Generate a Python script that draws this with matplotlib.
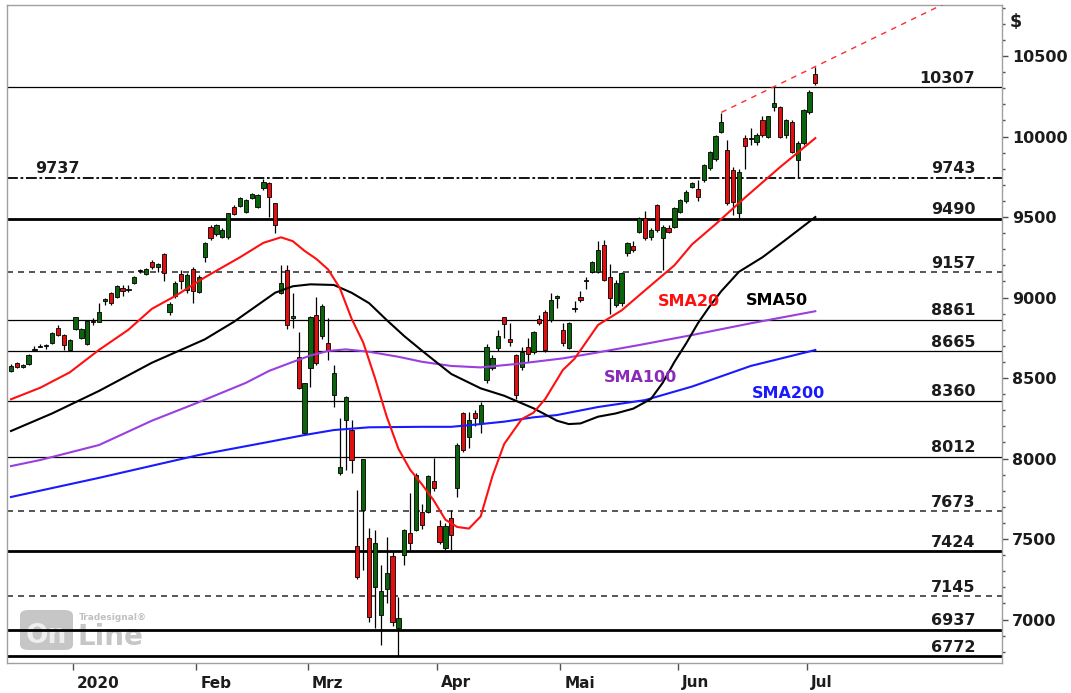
import numpy as np
import matplotlib
matplotlib.use("Agg")
from matplotlib import pyplot as plt
from matplotlib.patches import FancyBboxPatch
from matplotlib.ticker import MultipleLocator, NullFormatter
from matplotlib.transforms import ScaledTranslation

####################### Data ########################

# daily candles, one entry per trading day (16.12.2019 - 02.07.2020)
opens = [8545, 8591, 8570, 8587, 8672, 8695, 8698, 8716, 8809, 8767, 8674,
         8802, 8747, 8711, 8854, 8850, 8980, 9028, 9005, 9060, 9048, 9090, 9165, 9146, 9222, 9188, 9270, 8912, 9009, 9146, 9047, 9175,
         9036, 9253, 9440, 9394, 9378, 9374, 9564, 9568, 9533, 9620, 9564, 9678, 9709, 9585, 9030, 9171, 8875, 8632, 8157,
         8560, 8891, 8761, 8716, 8394, 7912, 8239, 8177, 7457, 7680, 7504, 7204, 7028, 7188, 7394, 6945, 7400, 7535, 7556, 7665, 7665, 7860,
         7580, 7442, 7630, 7815, 8281, 8135, 8281, 8219, 8488, 8560, 8684, 8877, 8741, 8643, 8571, 8694, 8664, 8864, 8912, 8860, 9000,
         8798, 8684, 8930, 9005, 9105, 9160, 9160, 9326, 9130, 8953, 8964, 9278, 9320, 9409, 9492, 9378, 9575, 9368, 9430, 9440,
         9533, 9601, 9688, 9672, 9730, 9802, 9858, 10030, 9916, 9792, 9523, 9989, 9985, 9968, 10102, 9999, 10185, 10181, 10009, 10092, 9854, 9961,
         10154, 10388]
highs = [8590, 8600, 8590, 8650, 8700, 8712, 8710, 8785, 8830, 8775, 8740,
         8880, 8810, 8860, 8875, 8966, 9000, 9035, 9075, 9075, 9075, 9135, 9180, 9185, 9235, 9215, 9275, 8970, 9100, 9170, 9150, 9190,
         9140, 9345, 9450, 9455, 9430, 9528, 9575, 9625, 9615, 9650, 9645, 9737, 9720, 9590, 9202, 9202, 9026, 8788, 8470,
         8885, 9005, 8960, 8871, 8581, 8252, 8390, 8240, 7804, 8000, 7567, 7556, 7339, 7515, 7420, 7141, 7560, 7784, 7910, 7720, 7895, 8005,
         7620, 7600, 7680, 8094, 8290, 8290, 8300, 8350, 8710, 8640, 8800, 8880, 8842, 8650, 8690, 8750, 8795, 8890, 8920, 9030, 9015,
         8840, 8845, 8980, 9040, 9130, 9230, 9350, 9355, 9210, 9110, 9160, 9345, 9350, 9500, 9540, 9430, 9580, 9450, 9450, 9560,
         9610, 9665, 9720, 9728, 9830, 9910, 10010, 10144, 9980, 9810, 9800, 10010, 10050, 10020, 10130, 10130, 10307, 10190, 10110, 10100, 9970, 10170,
         10290, 10434]
lows = [8535, 8560, 8560, 8580, 8665, 8690, 8680, 8710, 8760, 8674, 8670,
        8800, 8740, 8705, 8830, 8845, 8955, 8955, 9000, 9010, 9035, 9085, 9150, 9140, 9180, 9160, 9104, 8890, 9000, 9053, 9030, 8964,
        9030, 9220, 9360, 9380, 9370, 9365, 9510, 9560, 9525, 9610, 9555, 9670, 9502, 9402, 9020, 8804, 8809, 8430, 8150,
        8446, 8580, 8740, 8612, 8322, 7900, 7930, 7910, 7250, 7307, 6986, 6945, 6842, 7100, 6960, 6772, 7340, 7432, 7550, 7560, 7660, 7800,
        7470, 7430, 7432, 7763, 8040, 8064, 8200, 8160, 8470, 8550, 8670, 8750, 8700, 8370, 8550, 8600, 8650, 8830, 8660, 8845, 8933,
        8700, 8680, 8910, 8970, 9050, 9150, 9150, 9100, 8900, 8940, 8950, 9260, 9280, 9400, 9360, 9360, 9410, 9171, 9400, 9430,
        9525, 9590, 9680, 9600, 9720, 9795, 9850, 10020, 9575, 9510, 9490, 9800, 9950, 9950, 10000, 9990, 10160, 9990, 9990, 9900, 9743, 9950,
        10140, 10320]
closes = [8575, 8566, 8578, 8643, 8682, 8702, 8704, 8777, 8767, 8705, 8736,
          8877, 8802, 8854, 8848, 8912, 8990, 8966, 9071, 9040, 9053, 9127, 9172, 9175, 9188, 9210, 9150, 8960, 9092, 9104, 9140, 9042,
          9129, 9337, 9368, 9450, 9419, 9523, 9519, 9616, 9606, 9640, 9637, 9719, 9626, 9450, 9088, 8829, 8885, 8436, 8467,
          8881, 8591, 8947, 8674, 8533, 7949, 8384, 7991, 7262, 7995, 7017, 7473, 7179, 7287, 6986, 7007, 7556, 7473, 7900, 7590, 7890, 7815,
          7480, 7579, 7525, 8084, 8053, 8239, 8250, 8332, 8694, 8622, 8761, 8835, 8726, 8394, 8664, 8649, 8788, 8843, 8674, 8985, 9008,
          8716, 8840, 8936, 8985, 9112, 9222, 9295, 9109, 8995, 9088, 9150, 9337, 9295, 9492, 9368, 9419, 9419, 9440, 9409, 9554,
          9606, 9657, 9709, 9622, 9823, 9906, 10003, 10092, 9585, 9595, 9781, 9941, 9992, 10009, 10009, 10127, 10210, 9999, 10102, 9906, 9958, 10165,
          10278, 10334]

# first trading day of each month (index into the candle lists)
month_labels = ["2020", "Feb", "Mrz", "Apr", "Mai", "Jun", "Jul"]
month_start = [11, 32, 51, 73, 94, 114, 136]

# horizontal support / resistance levels
levels = [10307, 9743, 9490, 9157, 8861, 8665, 8360, 8012, 7673, 7424, 7145, 6937, 6772]
level_kind = ["thin", "dashdot", "thick", "dashed", "thin", "thin", "thin", "thin",
              "dashed", "thick", "dashed", "thick", "thick"]
left_level = 9737

# trend line through the highs of 10.06. and 23.06.
trend_idx = [121, 130]
trend_val = [10150, 10310]

sma20_idx = [0, 5, 10, 15, 20, 24, 28, 33, 39, 43, 46, 48, 50, 52, 54, 56, 58, 60, 62, 64, 66, 68,
             70, 72, 74, 76, 78, 80, 82, 84, 87, 89, 91, 94, 96, 100, 104, 108, 113, 116, 120, 125, 131, 137]
sma20_val = [8368, 8440, 8535, 8675, 8800, 8930, 9010, 9125, 9250, 9340, 9374, 9350, 9290, 9240, 9175, 9060,
             8870, 8720, 8500, 8260, 8060, 7930, 7840, 7740, 7620, 7575, 7565, 7640, 7890, 8090, 8245, 8285,
             8370, 8550, 8620, 8830, 8920, 9045, 9200, 9330, 9455, 9620, 9810, 9990]

sma50_idx = [0, 7, 15, 24, 33, 38, 45, 48, 51, 55, 58, 61, 64, 67, 70, 75, 80, 84, 89, 93, 95, 97,
             100, 103, 106, 109, 111, 113, 115, 117, 119, 121, 124, 128, 132, 137]
sma50_val = [8171, 8280, 8420, 8595, 8740, 8850, 9030, 9070, 9082, 9078, 9030, 8965, 8860, 8760, 8670,
             8525, 8436, 8390, 8312, 8235, 8214, 8218, 8260, 8280, 8310, 8370, 8470, 8600, 8715, 8840,
             8945, 9040, 9160, 9250, 9360, 9500]

sma100_idx = [0, 5, 15, 24, 32, 40, 44, 48, 51, 54, 57, 61, 66, 70, 75, 80, 86, 94, 99, 107, 116, 126, 137]
sma100_val = [7953, 7991, 8084, 8235, 8350, 8470, 8545, 8600, 8640, 8668, 8678, 8663, 8632, 8601, 8575,
              8566, 8587, 8622, 8653, 8705, 8767, 8840, 8915]

sma200_idx = [0, 15, 32, 44, 50, 55, 61, 70, 75, 80, 84, 89, 93, 100, 108, 116, 126, 137]
sma200_val = [7761, 7880, 8022, 8104, 8146, 8177, 8194, 8197, 8197, 8214, 8229, 8256, 8270, 8320, 8363,
              8447, 8575, 8674]

####################### Plot ########################

green = "#0b640b"
red = "#e01010"
txt = "#1c1c1c"

fig = plt.figure(figsize=(10.71, 6.93), dpi=100)
ax = fig.add_axes([7 / 1071, 1 - 663 / 693, 995 / 1071, 658 / 693])

# watermark
ax.add_patch(FancyBboxPatch((20 / 1071, 1 - 650 / 693), 53 / 1071, 40 / 693,
                            boxstyle="round,pad=0,rounding_size=0.008", transform=fig.transFigure,
                            facecolor="#c6c6c6", edgecolor="none", zorder=0.5))
ax.text(46 / 1071, 1 - 636 / 693, "On", transform=fig.transFigure, ha="center", va="center",
        fontsize=19, fontweight="bold", color="#eeeeee", zorder=0.6)
ax.text(77 / 1071, 1 - 637 / 693, "Line", transform=fig.transFigure, ha="left", va="center",
        fontsize=20, fontweight="bold", color="#c6c6c6", zorder=0.6)
ax.text(79 / 1071, 1 - 617 / 693, "Tradesignal\u00ae", transform=fig.transFigure, ha="left", va="center",
        fontsize=6.5, fontweight="bold", color="#c0c0c0", zorder=0.6)

# levels
styles = {
    "thin": dict(color="black", lw=0.9, ls="-"),
    "thick": dict(color="black", lw=2.0, ls="-"),
    "dashed": dict(color="#3a3a3a", lw=1.2, ls=(0, (3.6, 3))),
    "dashdot": dict(color="black", lw=1.3, ls=(0, (6, 1.5, 1.5, 1.5))),
}
for lv, kind in zip(levels, level_kind):
    ax.axhline(lv, zorder=2, **styles[kind])
    ax.annotate(str(lv), xy=(0.973, lv), xycoords=("axes fraction", "data"), xytext=(0, 3.3),
                textcoords="offset points", ha="right", va="baseline", fontsize=11.5,
                fontweight="bold", color=txt, zorder=6)
ax.annotate(str(left_level), xy=(0.028, left_level), xycoords=("axes fraction", "data"), xytext=(0, 4.5),
            textcoords="offset points", ha="left", va="baseline", fontsize=11.5,
            fontweight="bold", color=txt, zorder=6)

# candles
idx = np.arange(len(closes))
o = np.array(opens)
c = np.array(closes)
up = c >= o
ax.vlines(idx, lows, highs, color="black", lw=0.9, zorder=3)
body_h = np.maximum(np.abs(c - o), 4)
ax.bar(idx, body_h, bottom=np.minimum(o, c), width=0.72, color=np.where(up, green, red),
       edgecolor="black", linewidth=0.6, zorder=4)

# moving averages
ax.plot(sma200_idx, sma200_val, color="#1a1aff", lw=1.5, zorder=5)
ax.plot(sma100_idx, sma100_val, color="#9a3ee0", lw=1.5, zorder=5)
ax.plot(sma50_idx, sma50_val, color="black", lw=1.5, zorder=5)
ax.plot(sma20_idx, sma20_val, color="#ff1010", lw=1.5, zorder=5)

ax.text(115.5, 8978, "SMA20", color="#ff1010", fontsize=11.5, fontweight="bold", ha="center", va="center", zorder=6)
ax.text(130.5, 8984, "SMA50", color="black", fontsize=11.5, fontweight="bold", ha="center", va="center", zorder=6)
ax.text(107.3, 8506, "SMA100", color="#8a2ab8", fontsize=11.5, fontweight="bold", ha="center", va="center", zorder=6)
ax.text(132.4, 8407, "SMA200", color="#1a1aff", fontsize=11.5, fontweight="bold", ha="center", va="center", zorder=6)

# trend line, extended to the right edge
xmin, xmax = -0.68, 168.8
slope = (trend_val[1] - trend_val[0]) / (trend_idx[1] - trend_idx[0])
ax.plot([trend_idx[0], xmax], [trend_val[0], trend_val[0] + slope * (xmax - trend_idx[0])],
        color="#ff2a2a", lw=1.0, ls=(0, (4, 4)), zorder=5)

ax.set_xlim(xmin, xmax)
ax.set_ylim(6730, 10817)

# axes styling
for sp in ax.spines.values():
    sp.set_color("#a0a0a0")
    sp.set_linewidth(1)

ax.yaxis.tick_right()
ax.yaxis.set_major_locator(MultipleLocator(500))
ax.yaxis.set_minor_locator(MultipleLocator(100))
ax.yaxis.set_minor_formatter(NullFormatter())
ax.tick_params(axis="y", which="major", direction="out", length=4, width=1, color="#505050",
               pad=3, labelsize=11.5, labelcolor=txt)
ax.tick_params(axis="y", which="minor", direction="out", length=2.5, width=1, color="#505050")
for lab in ax.get_yticklabels():
    lab.set_fontweight("bold")
fig.text(1010 / 1071, 1 - 22 / 693, "$", fontsize=12.5, fontweight="bold", color=txt, va="center", ha="left")

ax.set_xticks([m - 0.45 for m in month_start])
ax.set_xticklabels(month_labels, fontsize=11, fontweight="bold", color=txt, ha="left")
ax.tick_params(axis="x", direction="out", length=5, width=1, color="#505050", pad=4)
shift = ScaledTranslation(4 / 100, 0, fig.dpi_scale_trans)
for lab in ax.get_xticklabels():
    lab.set_transform(lab.get_transform() + shift)

fig.savefig("out.png", dpi=100, facecolor="white")
